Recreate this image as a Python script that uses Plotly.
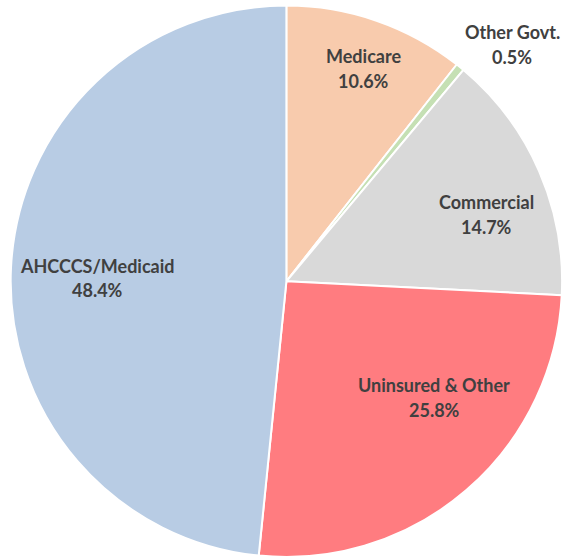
import plotly.graph_objects as go

categories = ["Medicare", "Other Govt.", "Commercial", "Uninsured & Other", "AHCCCS/Medicaid"]
values = [10.6, 0.5, 14.7, 25.8, 48.4]
pct_labels = ["10.6%", "0.5%", "14.7%", "25.8%", "48.4%"]
colors = ["#F8CBAD", "#C5E0B4", "#D9D9D9", "#FF7C80", "#B8CCE4"]

W, H = 568, 557
fig = go.Figure(go.Pie(
    labels=categories, values=values, sort=False, direction="clockwise", rotation=0,
    marker=dict(colors=colors, line=dict(color="white", width=2)),
    textinfo="none", hoverinfo="label+percent", showlegend=False,
    domain=dict(x=[0.0114, 0.997], y=[0.0, 0.99]),
))

# label centres in pixels (name line, value line)
label_pos = {
    "Medicare": (363, 56, 81),
    "Other Govt.": (512, 32, 57),
    "Commercial": (486, 202, 227),
    "Uninsured & Other": (434, 385, 410),
    "AHCCCS/Medicaid": (97, 266, 290),
}
font = dict(family="Lato", size=18, color="#404040")
for cat, pct in zip(categories, pct_labels):
    x, y1, y2 = label_pos[cat]
    for txt, yy in ((cat, y1), (pct, y2)):
        fig.add_annotation(x=x / W, y=1 - yy / H, xref="paper", yref="paper",
                           text="<b>%s</b>" % txt, showarrow=False,
                           xanchor="center", yanchor="middle", font=font)

fig.update_layout(width=W, height=H, margin=dict(l=0, r=0, t=0, b=0),
                  paper_bgcolor="white", plot_bgcolor="white")
fig.write_html("out.html")
